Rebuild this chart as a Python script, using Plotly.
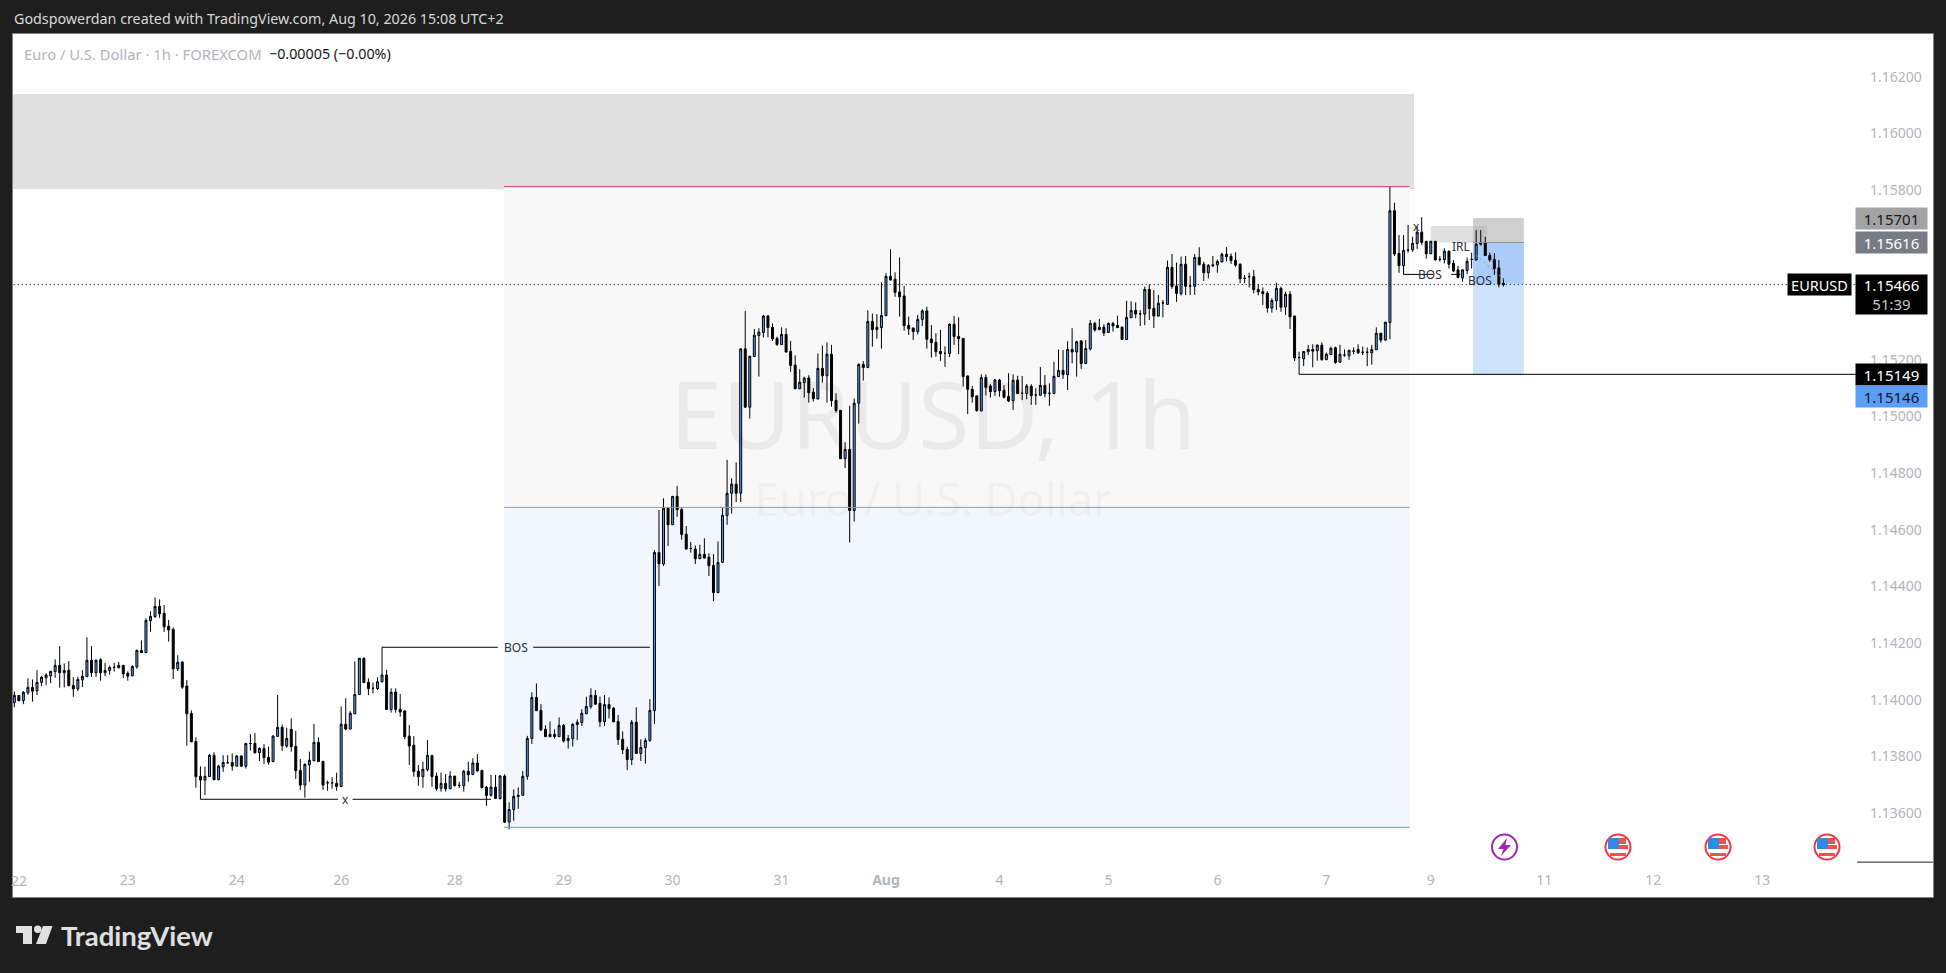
import plotly.graph_objects as go

# EURUSD 1h bars, prices, in 1e-5 units
opens = [
    113989,114015,113997,114024,114043,114031,114061,114077,114084,114099,
    114121,114095,114104,114050,114038,114070,114081,114139,114095,114141,
    114095,114103,114114,114113,114121,114093,114084,114116,114174,114166,
    114279,114293,114329,114305,114259,114248,114109,114133,114048,113951,
    113852,113729,113716,113728,113803,113717,113763,113777,113778,113765,
    113801,113765,113845,113845,113812,113828,113796,113781,113870,113902,
    113836,113895,113835,113750,113698,113770,113784,113849,113782,113706,
    113706,113704,113693,113913,113896,113950,114018,114146,114061,114040,
    114039,114063,114087,113965,114027,113966,113960,113871,113839,113747,
    113728,113753,113803,113730,113687,113704,113685,113730,113697,113696,
    113747,113735,113776,113750,113691,113662,113691,113650,113730,113568,
    113612,113658,113662,113729,113863,114008,113962,113895,113869,113877,
    113869,113909,113855,113862,113912,113919,113950,113975,114015,113987,
    113922,113983,113970,113923,113860,113824,113788,113920,113810,113831,
    113855,113961,114520,114479,114676,114618,114718,114672,114584,114534,
    114532,114498,114513,114503,114474,114378,114485,114650,114729,114761,
    114729,115239,115033,115212,115286,115297,115355,115315,115276,115254,
    115290,115230,115182,115098,115120,115136,115086,115062,115170,115144,
    115220,115057,115022,114851,114884,114668,115047,115184,115173,115336,
    115307,115314,115356,115495,115485,115440,115426,115322,115313,115300,
    115343,115373,115274,115262,115230,115223,115223,115326,115283,115276,
    115143,115096,115073,115020,115138,115108,115088,115129,115093,115071,
    115056,115129,115082,115081,115107,115076,115075,115110,115082,115081,
    115141,115163,115148,115237,115228,115267,115187,115239,115329,115307,
    115316,115297,115329,115322,115316,115272,115349,115375,115363,115362,
    115449,115382,115355,115401,115396,115527,115461,115434,115538,115461,
    115460,115562,115538,115508,115536,115536,115546,115573,115566,115552,
    115538,115488,115494,115494,115449,115441,115436,115383,115409,115453,
    115387,115432,115355,115208,115204,115229,115237,115233,115252,115201,
    115219,115243,115192,115217,115215,115231,115237,115227,115227,115225,
    115236,115294,115270,115332,115727,115576,115533,115588,115589,115611,
    115651,115619,115575,115619,115555,115554,115584,115541,115518,115490,
    115516,115555,115553,115612,115613,115569,115555,115525,115470,
]
highs = [
    114029,114015,114030,114075,114071,114104,114084,114093,114101,114142,
    114189,114128,114136,114079,114081,114104,114220,114189,114142,114146,
    114130,114120,114130,114133,114121,114100,114122,114177,114209,114287,
    114312,114361,114354,114334,114281,114255,114157,114136,114069,113962,
    113867,113764,113763,113808,113814,113770,113804,113804,113810,113804,
    113804,113847,113878,113882,113831,113843,113834,113875,114016,113912,
    113901,113934,113890,113790,113775,113816,113914,113867,113783,113714,
    113726,113742,113976,114005,113959,114135,114146,114149,114075,114060,
    114079,114185,114105,114040,114040,114020,113963,113910,113871,113769,
    113781,113857,113804,113742,113742,113737,113747,113730,113710,113752,
    113781,113793,113808,113752,113695,113734,113734,113734,113736,113637,
    113683,113690,113748,113872,114026,114057,113984,113910,113923,113895,
    113937,113914,113875,113916,113930,113966,114010,114040,114034,114010,
    114016,114008,113973,113946,113888,113834,113928,113973,113860,113864,
    114002,114528,114670,114711,114678,114719,114755,114679,114613,114557,
    114545,114547,114570,114517,114514,114559,114678,114847,114782,114838,
    115241,115373,115214,115309,115312,115359,115359,115329,115282,115315,
    115312,115267,115216,115167,115141,115146,115100,115223,115250,115262,
    115253,115082,115022,114909,115038,115064,115188,115196,115375,115364,
    115362,115474,115506,115591,115509,115562,115461,115353,115313,115359,
    115379,115388,115323,115294,115306,115248,115329,115355,115350,115276,
    115146,115108,115073,115149,115149,115114,115133,115133,115111,115153,
    115149,115144,115143,115115,115114,115100,115175,115146,115117,115193,
    115237,115235,115266,115312,115268,115270,115270,115341,115335,115345,
    115326,115332,115335,115356,115317,115409,115407,115403,115376,115459,
    115467,115447,115429,115412,115551,115574,115544,115565,115567,115496,
    115574,115598,115547,115538,115567,115555,115579,115598,115576,115580,
    115541,115500,115508,115518,115467,115456,115443,115418,115473,115459,
    115441,115443,115356,115229,115231,115253,115255,115255,115262,115226,
    115247,115247,115253,115237,115237,115244,115255,115247,115244,115253,
    115315,115296,115335,115812,115755,115641,115641,115677,115635,115671,
    115704,115619,115620,115620,115567,115594,115586,115553,115532,115520,
    115562,115579,115659,115659,115635,115579,115577,115553,115488,
]
lows = [
    113973,113996,113984,114017,113993,114016,114048,114051,114058,114077,
    114042,114043,114048,114010,114030,114044,114080,114080,114080,114067,
    114083,114088,114099,114110,114076,114067,114083,114109,114166,114166,
    114240,114289,114289,114239,114205,114073,114101,114038,113837,113850,
    113689,113648,113663,113727,113716,113716,113745,113774,113749,113764,
    113763,113757,113820,113811,113783,113772,113770,113780,113869,113819,
    113830,113816,113720,113681,113654,113710,113783,113780,113681,113678,
    113685,113678,113691,113892,113895,113949,114016,114059,114016,114022,
    114034,114061,113963,113954,113954,113940,113860,113769,113728,113696,
    113689,113746,113693,113678,113675,113675,113684,113693,113687,113675,
    113710,113734,113746,113687,113625,113657,113649,113648,113564,113542,
    113572,113614,113660,113717,113843,113960,113889,113868,113868,113862,
    113868,113848,113827,113834,113857,113907,113949,113968,113981,113904,
    113907,113934,113920,113840,113808,113751,113769,113808,113783,113774,
    113852,113914,114401,114472,114543,114617,114646,114565,114530,114519,
    114479,114496,114498,114437,114348,114377,114484,114617,114657,114698,
    114698,115031,114993,115210,115141,115279,115280,115267,115250,115253,
    115226,115158,115097,115097,115067,115049,115053,115061,115120,115049,
    115035,115014,114851,114818,114555,114629,114975,115127,115171,115247,
    115275,115240,115355,115481,115423,115353,115303,115288,115270,115290,
    115320,115240,115208,115211,115197,115176,115210,115253,115221,115106,
    115009,115049,115017,115018,115074,115067,115073,115070,115064,115051,
    115023,115080,115058,115061,115041,115041,115073,115068,115038,115080,
    115140,115133,115094,115188,115141,115168,115186,115233,115300,115306,
    115284,115296,115300,115313,115270,115270,115348,115347,115320,115323,
    115341,115313,115353,115350,115395,115451,115405,115427,115429,115429,
    115430,115534,115479,115488,115529,115508,115545,115548,115539,115529,
    115471,115471,115456,115435,115428,115394,115367,115367,115376,115370,
    115359,115309,115196,115149,115178,115217,115174,115197,115197,115199,
    115217,115186,115190,115211,115200,115220,115221,115217,115178,115183,
    115235,115261,115269,115273,115567,115508,115503,115579,115582,115592,
    115606,115558,115574,115552,115547,115541,115523,115510,115488,115476,
    115503,115523,115551,115604,115567,115547,115500,115456,115459,
]
closes = [
    114015,113996,114026,114043,114030,114061,114079,114087,114100,114121,
    114095,114103,114049,114038,114071,114082,114139,114095,114139,114095,
    114103,114114,114114,114121,114091,114083,114117,114174,114166,114280,
    114294,114329,114303,114257,114246,114109,114132,114044,113950,113851,
    113728,113716,113729,113803,113717,113765,113778,113777,113765,113801,
    113765,113845,113845,113812,113828,113795,113779,113871,113902,113837,
    113863,113834,113749,113698,113771,113786,113849,113781,113698,113706,
    113706,113693,113913,113896,113952,114018,114146,114060,114039,114040,
    114063,114087,113965,114026,113965,113956,113869,113836,113746,113728,
    113754,113803,113728,113685,113704,113685,113730,113696,113697,113747,
    113735,113776,113748,113689,113661,113691,113651,113730,113567,113612,
    113658,113662,113729,113863,114008,113961,113893,113869,113877,113869,
    113909,113854,113863,113913,113920,113952,113976,114015,113984,113922,
    113983,113968,113922,113859,113823,113788,113920,113810,113831,113856,
    113962,114520,114480,114676,114618,114718,114671,114583,114532,114534,
    114498,114513,114500,114473,114378,114484,114651,114729,114761,114729,
    115239,115033,115213,115287,115298,115355,115314,115274,115254,115290,
    115228,115180,115098,115121,115136,115084,115063,115170,115144,115220,
    115056,115021,114851,114884,114668,115047,115184,115173,115336,115307,
    115315,115357,115495,115482,115438,115423,115321,115310,115300,115343,
    115373,115273,115261,115229,115222,115223,115326,115282,115275,115141,
    115096,115070,115021,115138,115103,115088,115129,115091,115068,115055,
    115128,115081,115082,115108,115074,115076,115110,115081,115082,115142,
    115163,115148,115237,115228,115264,115187,115240,115329,115306,115315,
    115295,115329,115320,115314,115272,115350,115375,115362,115363,115449,
    115381,115355,115400,115401,115527,115459,115435,115538,115460,115461,
    115562,115536,115508,115534,115532,115548,115573,115565,115551,115535,
    115487,115488,115494,115448,115440,115434,115383,115410,115453,115386,
    115432,115352,115207,115208,115230,115237,115231,115252,115201,115220,
    115241,115191,115220,115217,115233,115231,115225,115227,115227,115237,
    115294,115270,115333,115727,115574,115533,115587,115588,115612,115651,
    115615,115575,115619,115553,115555,115584,115538,115514,115491,115518,
    115548,115555,115609,115609,115569,115553,115523,115467,115466,
]

# time axis
day_bars = [1, 25, 49, 72, 97, 121, 145, 169, 192, 217, 241, 265, 289, 312, 337, 361, 385]
day_labels = ["22", "23", "24", "26", "28", "29", "30", "31", "<b>Aug</b>", "4", "5", "6", "7", "9", "11", "12", "13"]

# price axis, 1.154 and 1.156 sit behind the tags in the original so they are left out
price_ticks = [1.136, 1.138, 1.14, 1.142, 1.144, 1.146, 1.148, 1.15, 1.152, 1.158, 1.16, 1.162]

# drawn levels
zone_top = 1.16139
zone_high = 1.15812
zone_mid = 1.14679
zone_low = 1.13549
bos_low_level = 1.14185
sweep_level = 1.13648
swing_level = 1.15149
bos_high_level = 1.15502
irl_top = 1.15673
irl_bottom = 1.15615
stop_price = 1.15701
entry_price = 1.15616
target_price = 1.15146
last_price = 1.15466

# price labels on the right, last number shifts the tag off its neighbour
price_labels = [
    ("1.15701", stop_price, "#a3a3a3", "#131722", 0),
    ("1.15616", entry_price, "#787b86", "#ffffff", 0),
    ("1.15149", swing_level, "#000000", "#ffffff", 0),
    ("1.15146", target_price, "#5b9cf6", "#131722", -21),
]

BG = "#1e1e1e"
TXT = "#b2b5be"
FONT = "Noto Sans"
BAR_W = 4.54
bars = list(range(len(opens)))


def price(v):
    return [x / 1e5 for x in v]


# pixel helpers for the page furniture (frame spans 13..1933, 34..897)
def fx(px):
    return (px - 13) / 1920


def fy(py):
    return (897 - py) / 863


def bar_at(px):
    return (px - 14.3) / BAR_W


fig = go.Figure()

# watermark sits under the candles
fig.add_trace(go.Scatter(
    x=[bar_at(933)], y=[1.1497], mode="text", text=["EURUSD, 1h"], hoverinfo="skip",
    textfont=dict(family=FONT, size=94, color="rgba(0,0,0,0.055)"),
))
fig.add_trace(go.Scatter(
    x=[bar_at(933)], y=[1.14688], mode="text", text=["Euro / U.S. Dollar"], hoverinfo="skip",
    textfont=dict(family=FONT, size=45, color="rgba(0,0,0,0.055)"),
))

fig.add_trace(go.Candlestick(
    x=bars, open=price(opens), high=price(highs), low=price(lows), close=price(closes),
    increasing=dict(line=dict(color="#000000", width=1), fillcolor="#5b9cf6"),
    decreasing=dict(line=dict(color="#000000", width=1), fillcolor="#000000"),
    whiskerwidth=0, hoverinfo="skip",
))

shapes = []


def box(x0, x1, y0, y1, color, layer="below"):
    shapes.append(dict(type="rect", x0=x0, x1=x1, y0=y0, y1=y1, fillcolor=color,
                       line_width=0, layer=layer))


def level(x0, x1, y, color="#000000", width=1):
    shapes.append(dict(type="line", x0=x0, x1=x1, y0=y, y1=y, layer="above",
                       line=dict(color=color, width=width)))


# zones
box(-1, 308.3, zone_high - 0.00008, zone_top, "#e0e0e0")
box(107.9, 307.3, zone_mid, zone_high, "#f8f8f8")
box(107.9, 307.3, zone_low, zone_mid, "#f2f6fe")
level(107.9, 307.3, zone_high, "#d8306a")
level(107.9, 307.3, zone_mid, "#9a9a9a")
level(107.9, 307.3, zone_low, "#5b9cf6")

# short position + IRL box
box(312, 324.3, irl_bottom, irl_top, "#e0e0e0")
box(321.3, 332.5, irl_bottom, stop_price, "rgba(170,170,170,0.55)")
box(321.3, 332.5, last_price, irl_bottom, "#accdfa")
box(321.3, 332.5, target_price, last_price, "#cde2fb")
level(321.3, 332.5, irl_bottom, "#8c8c8c")
shapes.append(dict(type="line", x0=322, x1=328, y0=1.1557, y1=1.15485, layer="above",
                   line=dict(color="#9a9a9a", width=1, dash="2px,3px")))

# structure lines
level(81, 106.5, bos_low_level)
level(114.3, 140, bos_low_level)
level(41, 71.3, sweep_level)
level(74.5, 105, sweep_level)
level(283, 405.9, swing_level)
level(306, 312.5, bos_high_level)
level(316.5, 318.5, bos_high_level)
shapes.append(dict(type="line", x0=306, x1=306, y0=bos_high_level, y1=1.1553, layer="above",
                   line=dict(color="#000000", width=1)))

# last price line, axis stub
level(-1, 405.9, last_price, "#000000")
shapes[-1]["line"]["dash"] = "1px,3px"
level(405.9, 423, 1.13426, "#1e1e1e")

# logo bottom left
shapes.append(dict(type="path", xref="paper", yref="paper", fillcolor="#e0e0e0", line_width=0,
    path=f"M{fx(16)},{fy(926)} L{fx(32)},{fy(926)} L{fx(32)},{fy(944)} L{fx(23)},{fy(944)} "
         f"L{fx(23)},{fy(933)} L{fx(16)},{fy(933)} Z"))
shapes.append(dict(type="path", xref="paper", yref="paper", fillcolor="#e0e0e0", line_width=0,
    path=f"M{fx(43)},{fy(926)} L{fx(52.5)},{fy(926)} L{fx(46)},{fy(944)} L{fx(36)},{fy(944)} Z"))
shapes.append(dict(type="circle", xref="paper", yref="paper", fillcolor="#e0e0e0", line_width=0,
    x0=fx(34), x1=fx(41.5), y0=fy(933), y1=fy(925.5)))


# event markers along the bottom
def ring(cx, cy, color):
    shapes.append(dict(type="circle", xref="paper", yref="paper", fillcolor="#ffffff",
                       x0=fx(cx - 12.5), x1=fx(cx + 12.5), y0=fy(cy + 12.5), y1=fy(cy - 12.5),
                       line=dict(color=color, width=2), layer="above"))


def patch(x0, x1, y0, y1, color):
    shapes.append(dict(type="rect", xref="paper", yref="paper", fillcolor=color, line_width=0,
                       x0=fx(x0), x1=fx(x1), y0=fy(y1), y1=fy(y0), layer="above"))


ring(1504.5, 847, "#9c27b0")
shapes.append(dict(type="path", xref="paper", yref="paper", fillcolor="#9c27b0", line_width=0, layer="above",
    path=f"M{fx(1507)},{fy(838)} L{fx(1498)},{fy(849)} L{fx(1503.5)},{fy(849)} L{fx(1501)},{fy(856)} "
         f"L{fx(1511)},{fy(845)} L{fx(1505.5)},{fy(845)} Z"))
for cx in [1618, 1718, 1827]:
    ring(cx, 847, "#f23645")
    patch(cx + 1, cx + 8, 838, 844, "#ef5350")
    patch(cx + 1, cx + 10, 845, 849, "#ef5350")
    patch(cx - 8, cx + 8, 853, 856, "#ef5350")
    patch(cx - 10, cx + 1, 838, 849, "#2f8ae6")

anns = []


def note(text, x, y, size=12, color="#2a2e39", **kw):
    anns.append(dict(text=text, x=x, y=y, showarrow=False, xanchor=kw.pop("xanchor", "center"),
                     yanchor="middle", font=dict(family=FONT, size=size, color=color), **kw))


# page header
note("Godspowerdan created with TradingView.com, Aug 10, 2026 15:08 UTC+2", fx(12), fy(18),
     size=14.3, color="#d8d8d8", xref="paper", yref="paper", xanchor="left")
note("Euro / U.S. Dollar · 1h · FOREXCOM", fx(22), fy(54), size=14.8, color=TXT,
     xref="paper", yref="paper", xanchor="left")
note("−0.00005 (−0.00%)", fx(267), fy(54), size=14.3, color="#131722",
     xref="paper", yref="paper", xanchor="left")
note("<b>TradingView</b>", fx(59), fy(935), size=27.5, color="#e0e0e0", xref="paper", yref="paper",
     xanchor="left")
anns[-1]["font"]["family"] = "Lato"

# first day label falls on the frame edge, the axis drops it
note(day_labels[0], fx(19), fy(880), size=14, color=TXT, xref="paper", yref="paper")

# chart labels
note("BOS", 110.4, bos_low_level)
note("x", 72.9, sweep_level)
note("x", bar_at(1416), 1.1567)
note("BOS", bar_at(1430), bos_high_level)
note("IRL", bar_at(1461), 1.15602)
note("BOS", bar_at(1480), 1.15480)

# price tags
for text, p, bg, fg, shift in price_labels:
    note(text, 413.4, p, size=15, color=fg, bgcolor=bg, width=69, height=19, yshift=shift)
note("EURUSD", 397.6, last_price, size=14.5, color="#ffffff", bgcolor="#000000", width=61, height=19)
note("1.15466<br><span style='color:#c8c8c8'>51:39</span>", 413.4, last_price - 0.00034, size=15, color="#ffffff",
     bgcolor="#000000", width=69, height=37)

fig.update_layout(
    width=1946, height=973, showlegend=False,
    margin=dict(l=13, r=13, t=34, b=76),
    paper_bgcolor=BG, plot_bgcolor="#ffffff",
    shapes=shapes, annotations=anns, boxgap=0.38,
    font=dict(family=FONT),
)
fig.update_xaxes(
    range=[bar_at(13), bar_at(1933)], rangeslider_visible=False, showgrid=False, zeroline=False,
    tickmode="array", tickvals=day_bars, ticktext=day_labels, ticks="",
    ticklabelposition="inside", tickfont=dict(family=FONT, size=14, color=TXT),
    ticklabelstandoff=9,
    showline=True, mirror=True, linecolor="#808080", linewidth=1,
)
fig.update_yaxes(
    range=[1.133028, 1.163512], side="right", showgrid=False, zeroline=False,
    tickmode="array", tickvals=price_ticks, tickformat=".5f", ticks="",
    ticklabelposition="inside", tickfont=dict(family=FONT, size=14, color=TXT),
    ticklabelstandoff=11,
    showline=True, mirror=True, linecolor="#808080", linewidth=1,
)

fig.write_html("out.html", config={"displayModeBar": False},
               post_script="document.body.style.margin='0';document.body.style.background='#1e1e1e';")
